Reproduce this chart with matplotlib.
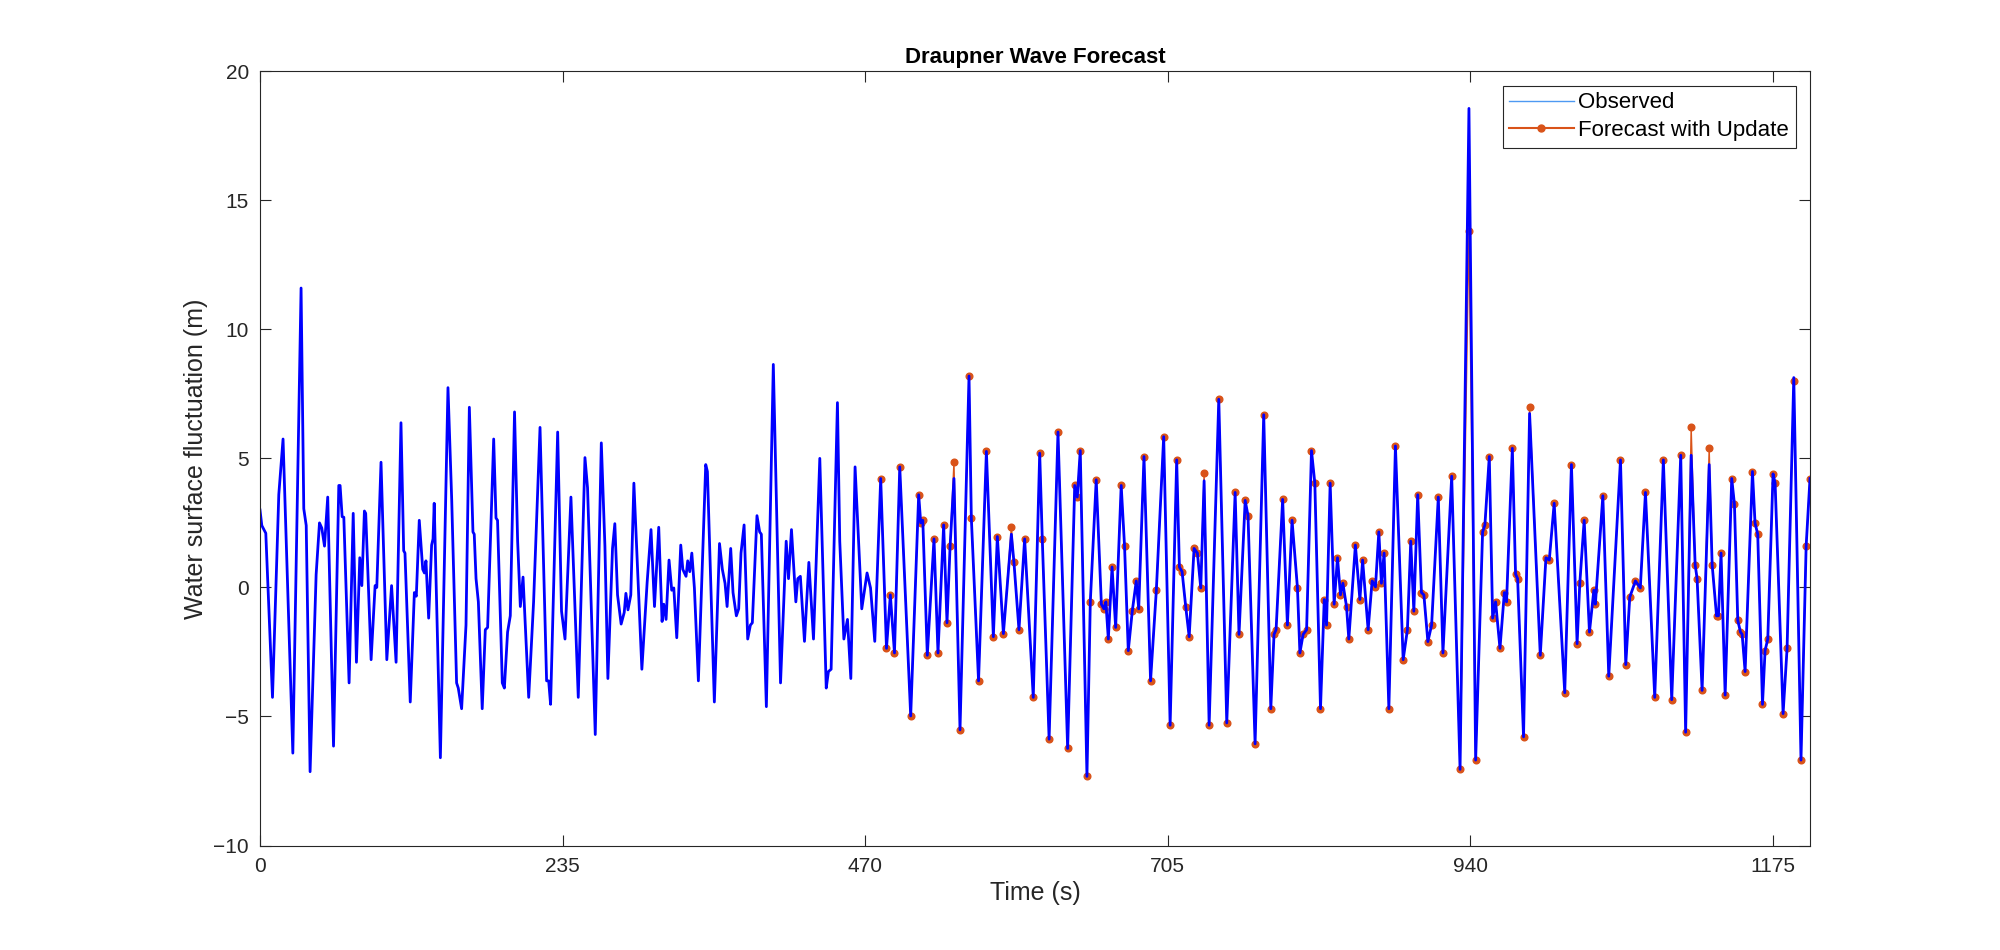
import numpy as np
import matplotlib
matplotlib.use("Agg")
import matplotlib.pyplot as plt
from matplotlib.lines import Line2D

plt.rcParams['font.family'] = ['Liberation Sans', 'DejaVu Sans']

# observed record, read at the turning points of the trace (s, m)
t_obs = [0, 1.4, 3.5, 4.5, 9.7, 14.6, 17.9, 25.5, 31.9, 34.0, 35.9, 38.9, 43.6, 46.2, 48.0, 50.1,
         52.6, 57.1, 61.2, 62.2, 63.8, 65.1, 69.2, 72.4, 74.9, 77.5, 79.1, 81.1, 82.1, 86.3, 89.4,
         90.7, 94.0, 98.5, 102.2, 105.7, 109.5, 111.6, 112.6, 116.7, 119.9, 121.4, 123.7, 126.4,
         127.7, 128.9, 131.0, 133.3, 134.4, 135.3, 140.1, 146.0, 148.9, 152.7, 154.0, 156.6, 160.0,
         162.6, 165.4, 166.4, 167.8, 169.6, 172.6, 175.0, 176.8, 181.5, 183.3, 184.5, 188.2, 189.8,
         192.3, 194.4, 197.7, 200.1, 202.2, 204.3, 208.7, 212.5, 217.5, 222.6, 224.2, 225.7, 231.2,
         234.2, 236.9, 241.5, 247.2, 252.4, 254.4, 260.4, 265.1, 267.9, 270.2, 273.8, 275.6, 277.7,
         280.5, 282.9, 284.2, 285.8, 288.0, 290.4, 296.6, 300.7, 303.7, 306.4, 309.7, 312.3, 313.6,
         315.4, 317.7, 319.8, 321.4, 323.7, 326.8, 328.4, 330.9, 332.2, 333.8, 335.4, 337.4, 340.5,
         346.2, 347.5, 352.9, 356.9, 359.1, 361.2, 362.8, 365.6, 367.4, 370.0, 371.8, 373.6, 376.0,
         378.8, 380.9, 382.4, 386.0, 388.1, 389.4, 393.3, 398.7, 404.3, 408.7, 410.5, 412.8, 416.2,
         417.7, 419.7, 422.9, 426.3, 429.9, 434.8, 439.8, 441.5, 443.6, 448.5, 450.3, 453.5, 456.3,
         458.9, 462.2, 467.4, 471.5, 474.2, 477.5,
         482.1, 486.6, 489.6, 492.8, 496.9, 505.4, 511.6, 513.2, 514.8, 518.3, 523.5, 526.6, 531.0,
         533.6, 536.0, 539.0, 543.7, 550.7, 552.5, 558.1, 564.2, 569.6, 572.7, 577.4, 583.6, 585.6,
         589.5, 593.9, 600.6, 605.6, 607.6, 612.9, 619.8, 627.3, 632.8, 634.8, 637.1, 642.3, 644.9,
         649.5, 653.5, 655.5, 657.0, 658.9, 661.8, 664.6, 668.9, 671.5, 674.4, 677.5, 680.6, 682.5,
         686.6, 691.7, 696.2, 701.9, 706.9, 712.0, 714.1, 716.2, 719.0, 721.7, 725.5, 728.1, 730.7,
         733.3, 737.2, 744.7, 750.9, 757.4, 760.4, 765.2, 767.4, 772.9, 779.6, 785.1, 787.6, 789.2,
         794.3, 798.0, 801.6, 805.8, 807.7, 810.2, 812.9, 816.7, 819.3, 823.7, 826.6, 828.4, 831.2,
         834.3, 836.9, 839.2, 841.1, 843.9, 845.7, 850.8, 854.3, 856.4, 860.7, 863.8, 866.4, 869.0,
         871.0, 873.1, 876.8, 881.9, 887.9, 891.2, 893.8, 896.2, 899.2, 902.1, 904.0, 907.1, 910.0,
         915.2, 918.8, 925.6, 932.1, 939.0, 944.2, 949.6, 951.4, 954.8, 957.4, 959.7, 963.1, 966.5,
         968.2, 972.7, 975.2, 976.8, 981.4, 986.1, 994.4, 998.8, 1001.4, 1005.2, 1013.4, 1018.6,
         1023.0, 1025.1, 1028.5, 1032.6, 1036.0, 1037.2, 1043.0, 1047.6, 1056.7, 1060.8, 1063.9,
         1068.3, 1072.1, 1076.1, 1083.3, 1090.0, 1096.5, 1103.5, 1107.3, 1111.6, 1114.7, 1116.2,
         1120.1, 1125.6, 1127.9, 1131.3, 1132.8, 1134.8, 1138.0, 1143.1, 1145.2, 1147.8, 1149.9,
         1151.2, 1153.5, 1159.2, 1161.2, 1163.3, 1167.0, 1169.0, 1171.1, 1175.2, 1176.8, 1183.0,
         1186.1, 1191.3, 1196.9, 1200.9, 1203.9]

y_obs = [3.0, 2.4, 2.2, 2.1, -4.26, 3.6, 5.75, -6.42, 11.6, 3.05, 2.4, -7.14, 0.5, 2.5, 2.3, 1.6,
         3.5, -6.15, 3.95, 3.95, 2.74, 2.72, -3.7, 2.87, -2.9, 1.15, 0.07, 2.96, 2.87, -2.8, 0.07,
         0.0, 4.85, -2.8, 0.07, -2.9, 6.38, 1.42, 1.33, -4.44, -0.2, -0.34, 2.6, 0.7,
         0.56, 1.03, -1.19, 1.64, 1.88, 3.26, -6.6, 7.74, 3.4, -3.7, -3.9, -4.7, -1.46,
         6.98, 2.15, 2.06, 0.34, -0.56, -4.7, -1.64, -1.55, 5.75, 2.69, 2.6, -3.7, -3.9,
         -1.73, -1.1, 6.8, 1.8, -0.74, 0.4, -4.26, -0.56, 6.2, -3.62, -3.62, -4.53, 6.02,
         -0.92, -2.0, 3.5, -4.26, 5.03, 3.86, -5.7, 5.6, 1.6, -3.53, 1.51, 2.47, -0.29,
         -1.42, -0.97, -0.23, -0.87, -0.29, 4.04, -3.17, 0.2, 2.24, -0.74, 2.33, -1.32, -0.65,
         -1.24, 1.06, -0.11, -0.02, -1.95, 1.64, 0.7, 0.43, 1.03, 0.61, 1.33, -0.02, -3.62,
         4.76, 4.49, -4.44, 1.7, 0.7, 0.16, -0.74, 1.51, -0.2, -1.1, -0.83, 1.33, 2.42,
         -2.0, -1.46, -1.37, 2.78, 2.15, 2.06, -4.62, 8.64, -3.7, 1.79, 0.34, 2.24, -0.56,
         0.34, 0.43, -2.09, 0.97, -2.0, 5.0, -3.9, -3.26, -3.17, 7.16, 1.79, -2.0, -1.24,
         -3.53, 4.67, -0.83, 0.56, -0.02, -2.09,
         4.22, -2.36, -0.29, -2.54, 4.67, -4.98, 3.59, 2.5, 2.6, -2.63, 1.88, -2.54, 2.42,
         -1.37, 1.6, 4.22, -5.52, 8.19, 2.69, -3.62, 5.27, -1.91, 1.97, -1.79, 2.06, 0.97,
         -1.64, 1.88, -4.26, 5.2, 1.88, -5.88, 6.02, -6.24, 3.95, 3.5, 5.3, -7.32, -0.56,
         4.17, -0.65, -0.83, -0.56, -2.0, 0.79, -1.55, 3.95, 1.6, -2.45, -0.92, 0.25, -0.83,
         5.07, -3.62, -0.11, 5.84, -5.34, 4.94, 0.79, 0.61, -0.74, -1.91, 1.51, 1.33, -0.02,
         4.13, -5.34, 7.29, -5.25, 3.68, -1.82, 3.37, 2.78, -6.06, 6.69, -4.7, -1.82, -1.64,
         3.41, -1.46, 2.6, -0.02, -2.54, -1.82, -1.64, 5.3, 4.04, -4.7, -0.47, -1.46, 4.04,
         -0.65, 1.15, -0.29, 0.16, -0.74, -2.0, 1.64, -0.47, 1.06, -1.64, 0.25, 0.02, 2.15,
         0.16, 1.33, -4.7, 5.48, -2.8, -1.64, 1.79, -0.92, 3.59, -0.2, -0.29, -2.1, -1.46,
         3.5, -2.54, 4.31, -7.05, 18.56, -6.69, 2.15, 2.42, 5.07, -1.19, -0.56, -2.36, -0.2,
         -0.56, 5.39, 0.52, 0.34, -5.79, 6.74, -2.63, 1.15, 1.06, 3.26, -4.08, 4.76,
         -2.18, 0.16, 2.6, -1.73, -0.11, -0.65, 3.55, -3.44, 4.94, -2.99, -0.38,
         0.25, -0.02, 3.68, -4.26, 4.94, -4.35, 5.12, -5.61, 5.12, 0.88, 0.34,
         -3.99, 4.76, 0.88, -1.1, -1.1, 1.33, -4.17, 4.22, 3.23, -1.28, -1.73,
         -1.82, -3.26, 4.49, 2.5, 2.06, -4.53, -2.45, -2.0, 4.4, 4.04, -4.89,
         -2.36, 8.13, -6.69, 1.6, 4.22]

# forecast with update, from t = 482.1 s on (same sample times as observed)
y_fc = [4.22, -2.36, -0.29, -2.54, 4.67, -4.98, 3.59, 2.5, 2.6, -2.63, 1.88, -2.54, 2.42,
        -1.37, 1.6, 4.85, -5.52, 8.19, 2.69, -3.62, 5.27, -1.91, 1.97, -1.79, 2.36, 0.97,
        -1.64, 1.88, -4.26, 5.2, 1.88, -5.88, 6.02, -6.24, 3.95, 3.5, 5.3, -7.32, -0.56,
        4.17, -0.65, -0.83, -0.56, -2.0, 0.79, -1.55, 3.95, 1.6, -2.45, -0.92, 0.25, -0.83,
        5.07, -3.62, -0.11, 5.84, -5.34, 4.94, 0.79, 0.61, -0.74, -1.91, 1.51, 1.33, -0.02,
        4.44, -5.34, 7.29, -5.25, 3.68, -1.82, 3.37, 2.78, -6.06, 6.69, -4.7, -1.82, -1.64,
        3.41, -1.46, 2.6, -0.02, -2.54, -1.82, -1.64, 5.3, 4.04, -4.7, -0.47, -1.46, 4.04,
        -0.65, 1.15, -0.29, 0.16, -0.74, -2.0, 1.64, -0.47, 1.06, -1.64, 0.25, 0.02, 2.15,
        0.16, 1.33, -4.7, 5.48, -2.8, -1.64, 1.79, -0.92, 3.59, -0.2, -0.29, -2.1, -1.46,
        3.5, -2.54, 4.31, -7.05, 13.8, -6.69, 2.15, 2.42, 5.07, -1.19, -0.56, -2.36, -0.2,
        -0.56, 5.39, 0.52, 0.34, -5.79, 7.0, -2.63, 1.15, 1.06, 3.26, -4.08, 4.76,
        -2.18, 0.16, 2.6, -1.73, -0.11, -0.65, 3.55, -3.44, 4.94, -2.99, -0.38,
        0.25, -0.02, 3.68, -4.26, 4.94, -4.35, 5.12, -5.61, 6.2, 0.88, 0.34,
        -3.99, 5.39, 0.88, -1.1, -1.1, 1.33, -4.17, 4.22, 3.23, -1.28, -1.73,
        -1.82, -3.26, 4.49, 2.5, 2.06, -4.53, -2.45, -2.0, 4.4, 4.04, -4.89,
        -2.36, 8.0, -6.69, 1.6, 4.22]
fc_start = t_obs.index(482.1)
t_fc = t_obs[fc_start:fc_start + len(y_fc)]
y_fc = y_fc[:len(t_fc)]
n = min(len(t_obs), len(y_obs))

xticks = [0, 235, 470, 705, 940, 1175]
yticks = [-10, -5, 0, 5, 10, 15, 20]

axcol = (0.15, 0.15, 0.15)
orange = (0.85, 0.325, 0.098)

fig = plt.figure(figsize=(20, 9.5), dpi=100)
ax = fig.add_axes([0.13, 0.11, 0.775, 0.815])

ax.plot(t_fc, y_fc, '-', color=orange, lw=1.0, marker='o', ms=4.8, mec=orange, mfc=orange)
ax.plot(t_obs[:n], y_obs[:n], color='b', lw=2.0)

ax.set_xlim(0, 1203.9)
ax.set_ylim(-10, 20)
ax.set_xticks(xticks)
ax.set_yticks(yticks)
ax.tick_params(direction='in', top=True, right=True, length=8, width=0.8,
               colors=axcol, labelsize=15, pad=8)
for s in ax.spines.values():
    s.set_color(axcol)
    s.set_linewidth(0.8)

ax.set_xlabel('Time (s)', fontsize=18, color=axcol)
ax.set_ylabel('Water surface fluctuation (m)', fontsize=18, color=axcol)
ax.set_title('Draupner Wave Forecast', fontsize=16, fontweight='bold', color='k')

handles = [Line2D([], [], color=(0.3, 0.6, 0.95), lw=1),
           Line2D([], [], color=orange, lw=1.5, marker='o', ms=5)]
leg = ax.legend(handles, ['Observed', 'Forecast with Update'], loc='upper right',
                fontsize=16, fancybox=False, edgecolor=axcol, framealpha=1,
                borderaxespad=0.65, handlelength=2.9, handletextpad=0.2,
                borderpad=0.3, labelspacing=0.3)
leg.get_frame().set_linewidth(0.8)

fig.savefig('out.png', dpi=100)
